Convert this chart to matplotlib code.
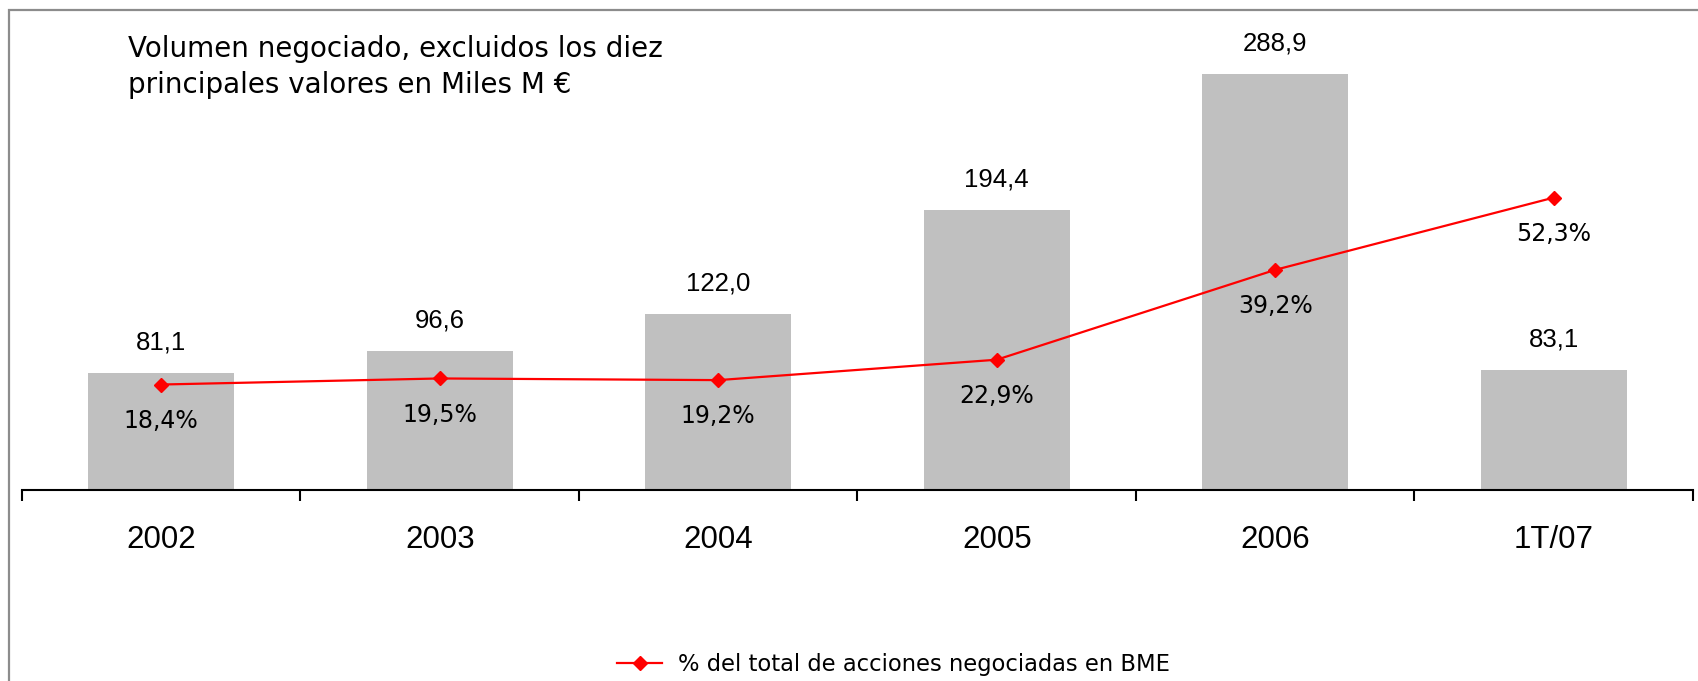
import matplotlib.pyplot as plt
from matplotlib.patches import Rectangle

categories = ["2002", "2003", "2004", "2005", "2006", "1T/07"]
volumen    = [81.1, 96.6, 122.0, 194.4, 288.9, 83.1]
porcentaje = [18.4, 19.5, 19.2, 22.9, 39.2, 52.3]

W, H = 1699, 681
fig = plt.figure(figsize=(W / 100, H / 100), dpi=100)

# outer grey frame (open to the right and bottom, like the source)
fig.patches.append(Rectangle((9 / W, -0.2), 1.2, 1 - 10 / H + 0.2,
                             transform=fig.transFigure, fill=False,
                             edgecolor="#8c8c8c", linewidth=1.6))

ax = fig.add_axes([22 / W, 1 - 490 / H, (1693 - 22) / W, 460 / H])
x = list(range(len(categories)))

ax.bar(x, volumen, width=0.525, color="#c0c0c0", zorder=2)
ax.set_xlim(-0.5, len(categories) - 0.5)
ax.set_ylim(0, 460 / 1.44)

for xi, v in zip(x, volumen):
    ax.annotate(f"{v:.1f}".replace(".", ","), (xi, v), xytext=(0, 22),
                textcoords="offset points", ha="center", va="center",
                fontsize=18.5, family="Liberation Sans")

for s in ["top", "right", "left"]:
    ax.spines[s].set_visible(False)
ax.spines["bottom"].set_linewidth(1.5)
ax.set_yticks([])
ax.set_xticks(x)
ax.set_xticklabels(categories, fontsize=22.5, family="Liberation Sans")
ax.tick_params(axis="x", which="major", length=0, pad=25)
ax.set_xticks([i - 0.5 for i in range(len(categories) + 1)], minor=True)
ax.tick_params(axis="x", which="minor", length=8, width=1.5, direction="out")

ax2 = ax.twinx()
ax2.set_ylim(-0.73, 82.7)
ax2.plot(x, porcentaje, color="red", linewidth=1.6, marker="D",
         markersize=7, label="% del total de acciones negociadas en BME", zorder=3)
for xi, p in zip(x, porcentaje):
    ax2.annotate(f"{p:.1f}%".replace(".", ","), (xi, p), xytext=(0, -26),
                 textcoords="offset points", ha="center", va="center",
                 fontsize=17, family="DejaVu Sans")
ax2.axis("off")

fig.text(128 / W, 1 - 67 / H,
         "Volumen negociado, excluidos los diez\nprincipales valores en Miles M €",
         fontsize=20, family="DejaVu Sans", ha="left", va="center", linespacing=1.35)

fig.legend(loc="center", bbox_to_anchor=(0.526, 1 - 664 / H), frameon=False,
           prop={"family": "DejaVu Sans", "size": 16.3}, handlelength=2.0,
           handletextpad=0.72)

fig.savefig("out.png", dpi=100)
